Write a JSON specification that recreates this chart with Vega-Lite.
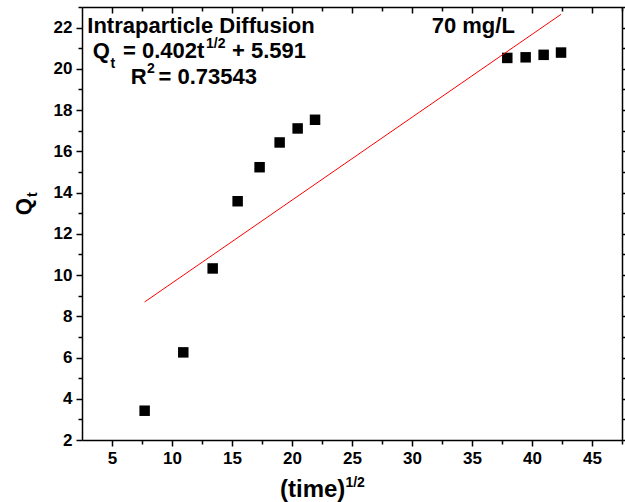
{
  "$schema": "https://vega.github.io/schema/vega-lite/v6.json",
  "width": 540,
  "height": 433,
  "autosize": {"type": "none"},
  "padding": {"left": 82, "top": 7, "right": 3, "bottom": 62},
  "background": "white",
  "config": {
    "view": {"stroke": null},
    "axis": {
      "domainColor": "black", "domainWidth": 1.5, "tickColor": "black", "tickWidth": 1.5,
      "grid": false, "labelFont": "Liberation Sans", "labelFontWeight": "bold",
      "labelFontSize": 17, "labelColor": "black", "labelFlush": false, "labelOverlap": false
    },
    "text": {"font": "Liberation Sans", "fontWeight": "bold", "color": "black"}
  },
  "datasets": {
    "points": [
      {"t": 7.72, "q": 3.42},
      {"t": 10.94, "q": 6.25},
      {"t": 13.39, "q": 10.32},
      {"t": 15.47, "q": 13.58},
      {"t": 17.3, "q": 15.23},
      {"t": 18.97, "q": 16.43},
      {"t": 20.47, "q": 17.11},
      {"t": 21.92, "q": 17.53},
      {"t": 37.94, "q": 20.53},
      {"t": 39.47, "q": 20.56},
      {"t": 40.97, "q": 20.68},
      {"t": 42.42, "q": 20.79}
    ],
    "fit": [
      {"t": 7.72, "q": 8.695},
      {"t": 42.42, "q": 22.644}
    ],
    "labels": [
      {"x": 2.94, "y": 21.73, "text": "Intraparticle Diffusion", "size": 22, "angle": 0},
      {"x": 3.39, "y": 20.52, "text": "Q", "size": 22, "angle": 0},
      {"x": 4.88, "y": 20.03, "text": "t", "size": 14, "angle": 0},
      {"x": 5.92, "y": 20.52, "text": "= 0.402t", "size": 22, "angle": 0},
      {"x": 12.84, "y": 21.0, "text": "1/2", "size": 14, "angle": 0},
      {"x": 15.0, "y": 20.52, "text": "+ 5.591", "size": 22, "angle": 0},
      {"x": 6.56, "y": 19.26, "text": "R", "size": 22, "angle": 0},
      {"x": 7.92, "y": 19.79, "text": "2", "size": 14, "angle": 0},
      {"x": 8.88, "y": 19.26, "text": "= 0.73543", "size": 22, "angle": 0},
      {"x": 31.64, "y": 21.73, "text": "70 mg/L", "size": 22, "angle": 0},
      {"x": 19.0, "y": -0.76, "text": "(time)", "size": 24, "angle": 0},
      {"x": 24.45, "y": -0.28, "text": "1/2", "size": 14, "angle": 0},
      {"x": -1.75, "y": 12.9, "text": "Q", "size": 22, "angle": 270},
      {"x": -1.25, "y": 13.78, "text": "t", "size": 14, "angle": 270}
    ]
  },
  "resolve": {"axis": {"x": "independent", "y": "independent"}},
  "layer": [
    {
      "data": {"name": "points"},
      "mark": {"type": "square", "size": 110, "color": "black", "opacity": 1, "filled": true},
      "encoding": {
        "x": {
          "field": "t", "type": "quantitative",
          "scale": {"domain": [2.5, 47.5], "nice": false, "zero": false},
          "axis": {
            "orient": "bottom", "title": null,
            "values": [5, 7.5, 10, 12.5, 15, 17.5, 20, 22.5, 25, 27.5, 30, 32.5, 35, 37.5, 40, 42.5, 45, 47.5],
            "labelExpr": "datum.value % 5 === 0 ? format(datum.value, 'd') : ''",
            "tickSize": {"condition": {"test": "datum.value % 5 === 0", "value": 6}, "value": 4},
            "labelPadding": 4
          }
        },
        "y": {
          "field": "q", "type": "quantitative",
          "scale": {"domain": [2, 23], "nice": false, "zero": false},
          "axis": {
            "orient": "left", "title": null,
            "values": [2, 3, 4, 5, 6, 7, 8, 9, 10, 11, 12, 13, 14, 15, 16, 17, 18, 19, 20, 21, 22, 23],
            "labelExpr": "datum.value % 2 === 0 ? format(datum.value, 'd') : ''",
            "tickSize": {"condition": {"test": "datum.value % 2 === 0", "value": 6}, "value": 4},
            "labelPadding": 4
          }
        }
      }
    },
    {
      "data": {"name": "fit"},
      "mark": {"type": "line", "color": "#ff0000", "strokeWidth": 1},
      "encoding": {
        "x": {
          "field": "t", "type": "quantitative",
          "axis": {
            "orient": "top", "title": null, "labels": false,
            "values": [5, 7.5, 10, 12.5, 15, 17.5, 20, 22.5, 25, 27.5, 30, 32.5, 35, 37.5, 40, 42.5, 45, 47.5],
            "tickSize": {"condition": {"test": "datum.value % 5 === 0", "value": -6}, "value": -4}
          }
        },
        "y": {
          "field": "q", "type": "quantitative",
          "axis": {
            "orient": "right", "title": null, "labels": false,
            "values": [2, 3, 4, 5, 6, 7, 8, 9, 10, 11, 12, 13, 14, 15, 16, 17, 18, 19, 20, 21, 22, 23],
            "tickSize": {"condition": {"test": "datum.value % 2 === 0", "value": 6}, "value": 4}
          }
        }
      }
    },
    {
      "data": {"name": "labels"},
      "mark": {"type": "text", "align": "left", "baseline": "alphabetic"},
      "encoding": {
        "x": {"field": "x", "type": "quantitative", "axis": null},
        "y": {"field": "y", "type": "quantitative", "axis": null},
        "text": {"field": "text"},
        "size": {"field": "size", "type": "quantitative", "scale": null},
        "angle": {"field": "angle", "type": "quantitative", "scale": null}
      }
    }
  ]
}
